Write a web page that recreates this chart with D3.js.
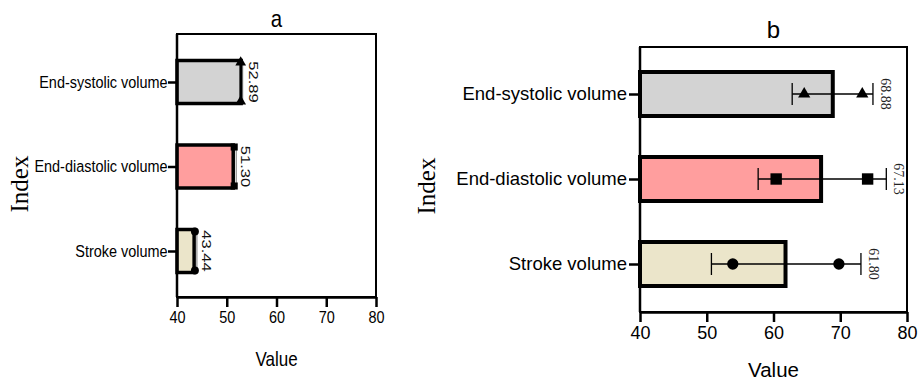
<!DOCTYPE html>
<html>
<head>
<meta charset="utf-8">
<script src="https://cdn.jsdelivr.net/npm/d3@7"></script>
<style>
  body { margin: 0; background: #fff; }
  svg { display: block; }
  .axis path, .axis line { stroke: #000; stroke-width: 2.5; }
</style>
</head>
<body>
<script>
// data
var categories = ["End-systolic volume", "End-diastolic volume", "Stroke volume"];
var meansA = [52.89, 51.30, 43.44];
var pointsA = [52.8, 51.5, 43.6];
var meansB = [68.88, 67.13, 61.80];
var pointsLowB = [64.6, 60.4, 53.9];
var pointsHighB = [73.3, 74.1, 69.8];
var errLowB = [62.8, 57.7, 50.7];
var errHighB = [74.9, 76.9, 73.1];
var xTicks = [40, 50, 60, 70, 80];
var fills = ["#d3d3d3", "#ff9e9e", "#ebe5ca"];
var shapes = [d3.symbolTriangle, d3.symbolSquare, d3.symbolCircle];

var w = 919, h = 382;
var sans = "'Liberation Sans', Arial, sans-serif";
var serif = "'Liberation Serif', 'Times New Roman', serif";

var svg = d3.select("body").append("svg")
  .attr("width", w)
  .attr("height", h);

// put a text at (x,y) squeezed horizontally by k, optionally rotated
function label(x, y, str, opts){
  var g = svg.append("g").attr("transform", "translate(" + x + "," + y + ")");
  var t = g.append("text")
    .attr("text-anchor", opts.anchor || "middle")
    .attr("transform", "scale(" + (opts.k || 1) + ",1)" + (opts.rot ? " rotate(" + opts.rot + ")" : ""))
    .style("font-family", opts.font || sans)
    .style("font-size", opts.size + "px")
    .style("fill", opts.fill || "#000")
    .text(str);
  if (opts.dy) t.attr("dy", opts.dy);
  return t;
}

function panel(cfg){
  var x = d3.scaleLinear().domain([40, 80]).range([cfg.left, cfg.right]);
  var y = d3.scalePoint().domain(categories).range(cfg.yRange);

  // frame
  svg.append("rect")
    .attr("x", cfg.left).attr("y", cfg.top)
    .attr("width", cfg.right - cfg.left).attr("height", cfg.bottom - cfg.top)
    .style("fill", "none").style("stroke", "#000").style("stroke-width", 2);

  // bars
  svg.selectAll(null)
    .data(categories)
    .enter()
    .append("rect")
    .attr("x", x(40))
    .attr("y", function(d){ return y(d) - cfg.barH / 2; })
    .attr("width", function(d, i){ return x(cfg.means[i]) - x(40); })
    .attr("height", cfg.barH)
    .style("fill", function(d, i){ return fills[i]; })
    .style("stroke", "#000")
    .style("stroke-width", cfg.barStroke);

  // axes
  var xAxis = svg.append("g")
    .attr("class", "axis")
    .attr("transform", "translate(0," + cfg.bottom + ")")
    .call(d3.axisBottom(x).tickValues(xTicks).tickSize(10).tickSizeOuter(0).tickPadding(4));
  xAxis.selectAll("text")
    .style("font-family", sans)
    .style("font-size", cfg.tickSize + "px")
    .attr("transform", "scale(" + cfg.k + ",1)");

  var yAxis = svg.append("g")
    .attr("class", "axis")
    .attr("transform", "translate(" + cfg.left + ",0)")
    .call(d3.axisLeft(y).tickSize(cfg.yTick).tickSizeOuter(0).tickPadding(2));
  yAxis.select(".domain").attr("d", "M0," + cfg.top + "V" + cfg.bottom);
  yAxis.selectAll("text")
    .style("font-family", sans)
    .style("font-size", cfg.catSize + "px")
    .attr("transform", "scale(" + cfg.k + ",1)");

  label((cfg.left + cfg.right) / 2, cfg.titleY, cfg.title, {size: 24, k: cfg.k});
  label((cfg.left + cfg.right) / 2, cfg.valueY, "Value", {size: cfg.valueSize, k: cfg.k});
  label(cfg.indexX, cfg.indexY, "Index", {size: 25, rot: -90, font: serif});

  return {x: x, y: y};
}

// ---- panel a ----
var a = panel({
  left: 177, right: 376, top: 34, bottom: 297,
  yRange: [82, 251], barH: 43, barStroke: 3.5,
  means: meansA, k: 0.85, tickSize: 17, catSize: 17, yTick: 9,
  title: "a", titleY: 27, valueY: 366, valueSize: 20, indexX: 28, indexY: 184
});

// points sit on the bar ends, at the top and bottom edges
categories.forEach(function(c, i){
  var px = a.x(pointsA[i]);
  var yTop = a.y(c) - 43 / 2 + 2, yBot = a.y(c) + 43 / 2 - 2;
  svg.append("line")
    .attr("x1", px + 2).attr("x2", px + 2).attr("y1", yTop).attr("y2", yBot)
    .style("stroke", "#777").style("stroke-width", 1);
  [yTop, yBot].forEach(function(py){
    svg.append("path")
      .attr("d", d3.symbol().type(shapes[i]).size(50))
      .attr("transform", "translate(" + px + "," + py + ")")
      .style("fill", "#000");
  });
  label(a.x(meansA[i]) + 8, a.y(c), d3.format(".2f")(meansA[i]),
    {size: 16.5, k: 0.8, rot: 90, anchor: "middle", fill: "#111"});
});

// ---- panel b ----
var b = panel({
  left: 640, right: 907, top: 47, bottom: 312,
  yRange: [94, 264], barH: 44, barStroke: 4,
  means: meansB, k: 1, tickSize: 18, catSize: 18.5, yTick: 11,
  title: "b", titleY: 38, valueY: 377, valueSize: 20.5, indexX: 435, indexY: 186
});

var symSizes = [65, 130, 100];
categories.forEach(function(c, i){
  var cy = b.y(c);
  svg.append("line")
    .attr("x1", b.x(errLowB[i])).attr("x2", b.x(errHighB[i]))
    .attr("y1", cy).attr("y2", cy)
    .style("stroke", "#000").style("stroke-width", 1.3);
  [errLowB[i], errHighB[i]].forEach(function(v){
    svg.append("line")
      .attr("x1", b.x(v)).attr("x2", b.x(v))
      .attr("y1", cy - 11).attr("y2", cy + 11)
      .style("stroke", "#000").style("stroke-width", 1.3);
  });
  [pointsLowB[i], pointsHighB[i]].forEach(function(v){
    svg.append("path")
      .attr("d", d3.symbol().type(shapes[i]).size(symSizes[i]))
      .attr("transform", "translate(" + b.x(v) + "," + cy + ")")
      .style("fill", "#000");
  });
  label(b.x(errHighB[i]) + 8, cy, d3.format(".2f")(meansB[i]),
    {size: 14, rot: 90, font: serif, fill: "#222"});
});
</script>
</body>
</html>
